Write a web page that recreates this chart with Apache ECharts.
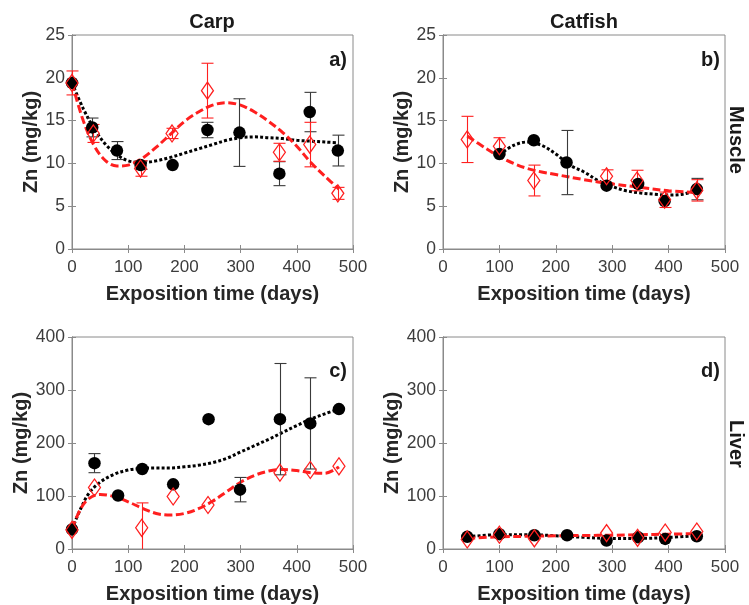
<!DOCTYPE html>
<html>
<head>
<meta charset="utf-8">
<script src="https://cdn.jsdelivr.net/npm/echarts@6/dist/echarts.min.js"></script>
<style>
  html, body { margin: 0; padding: 0; background: #ffffff; }
  #chart { width: 749px; height: 605px; }
</style>
</head>
<body>
<div id="chart"></div>
<script>
// ---- Zn concentration (mg/kg) over exposition time (days) ----

// a) Carp, muscle
const carpMuscleDotDays = [0, 36, 80, 122, 179, 241, 298, 369, 423, 473];
const carpMuscleDotZn   = [19.4, 14.2, 11.5, 9.8, 9.8, 13.9, 13.6, 8.8, 16.0, 11.5];
const carpMuscleDotErr  = [null, 1.1, 1.05, 0.5, null, 0.9, 3.95, 1.4, 2.3, 1.8];
const carpMuscleDiaDays = [0, 38, 122, 178, 241, 369, 423, 473];
const carpMuscleDiaZn   = [19.4, 13.5, 9.4, 13.5, 18.5, 11.3, 12.2, 6.5];
const carpMuscleDiaErr  = [1.4, 1.05, 0.9, 0.6, 3.2, 1.05, 2.6, 0.7];
const carpMuscleFitDays = [0, 20, 40, 60, 80, 100, 125, 150, 175, 200, 225, 250, 275, 300, 325, 350, 375, 400, 425, 450, 475];
const carpMuscleFitDot  = [19.4, 16.4, 14.0, 12.2, 11.0, 10.3, 10.1, 10.3, 10.7, 11.2, 11.7, 12.2, 12.7, 13.0, 13.1, 13.0, 12.9, 12.7, 12.6, 12.5, 12.4];
const carpMuscleFitDia  = [19.4, 15.0, 12.0, 10.3, 9.7, 9.8, 10.6, 11.9, 13.4, 14.9, 16.0, 16.8, 17.1, 16.8, 16.0, 14.9, 13.6, 12.0, 10.1, 8.5, 7.0];

// b) Catfish, muscle
const catMuscleDotDays = [100, 161, 219, 290, 346, 393, 450];
const catMuscleDotZn   = [11.1, 12.7, 10.1, 7.4, 7.6, 5.6, 7.0];
const catMuscleDotErr  = [null, null, 3.75, null, null, null, 1.25];
const catMuscleDiaDays = [43, 100, 161, 290, 344, 393, 450];
const catMuscleDiaZn   = [12.8, 12.0, 8.0, 8.5, 8.0, 5.75, 6.85];
const catMuscleDiaErr  = [2.7, 1.0, 1.8, 0.75, 1.2, 0.9, 1.25];
const catMuscleFitDotDays = [100, 125, 150, 175, 200, 225, 250, 275, 300, 325, 350, 375, 400, 425, 450];
const catMuscleFitDot     = [11.0, 12.1, 12.5, 12.1, 11.1, 9.8, 9.0, 8.0, 7.3, 6.8, 6.55, 6.4, 6.3, 6.4, 6.9];
const catMuscleFitDiaDays = [43, 75, 100, 125, 150, 175, 200, 250, 300, 350, 400, 450];
const catMuscleFitDia     = [13.2, 11.8, 10.8, 10.0, 9.4, 9.0, 8.7, 8.1, 7.6, 7.2, 6.8, 6.6];

// c) Carp, liver
const carpLiverDotDays = [0, 40, 82, 125, 180, 243, 299, 370, 424, 475];
const carpLiverDotZn   = [37, 162, 101, 151, 122, 245, 112, 245, 237, 264];
const carpLiverDotErr  = [null, 18, null, null, null, null, 23, 105, 86, null];
const carpLiverDiaDays = [0, 40, 124, 180, 242, 370, 424, 475];
const carpLiverDiaZn   = [36, 116, 40, 99, 83, 144, 149, 156];
const carpLiverDiaErr  = [null, null, 47, null, null, null, null, null];
const carpLiverFitDays = [0, 15, 30, 50, 75, 100, 125, 150, 175, 200, 225, 250, 275, 300, 325, 350, 375, 400, 425, 450, 475];
const carpLiverFitDot  = [38, 75, 105, 126, 141, 149, 152, 153, 153, 155, 158, 163, 171, 183, 195, 207, 220, 233, 245, 255, 264];
const carpLiverFitDia  = [38, 75, 95, 103, 99, 89, 77, 67, 64, 67, 76, 90, 108, 126, 139, 147, 150, 148, 144, 143, 155];

// d) Catfish, liver
const catLiverDotDays = [43, 100, 162, 220, 290, 346, 394, 450];
const catLiverDotZn   = [23, 28, 26, 26, 16, 22, 19, 24];
const catLiverDiaDays = [43, 100, 162, 290, 345, 394, 450];
const catLiverDiaZn   = [18, 27, 20, 30, 21, 31, 33];
const catLiverFitDays = [43, 100, 150, 200, 250, 300, 350, 400, 450];
const catLiverFitDot  = [23, 27, 27, 25, 22, 20, 20, 22, 25];
const catLiverFitDia  = [20, 23, 24, 25, 25.5, 26, 27, 28, 29];

const panelLabels = ['a)', 'b)', 'c)', 'd)'];
const columnTitles = ['Carp', 'Catfish'];
const rowTitles = ['Muscle', 'Liver'];
const xAxisTitle = 'Exposition time (days)';
const yAxisTitle = 'Zn (mg/kg)';

const panels = [
  { dot: [carpMuscleDotDays, carpMuscleDotZn, carpMuscleDotErr], dia: [carpMuscleDiaDays, carpMuscleDiaZn, carpMuscleDiaErr],
    fitDot: [carpMuscleFitDays, carpMuscleFitDot], fitDia: [carpMuscleFitDays, carpMuscleFitDia], yMax: 25, yStep: 5 },
  { dot: [catMuscleDotDays, catMuscleDotZn, catMuscleDotErr], dia: [catMuscleDiaDays, catMuscleDiaZn, catMuscleDiaErr],
    fitDot: [catMuscleFitDotDays, catMuscleFitDot], fitDia: [catMuscleFitDiaDays, catMuscleFitDia], yMax: 25, yStep: 5 },
  { dot: [carpLiverDotDays, carpLiverDotZn, carpLiverDotErr], dia: [carpLiverDiaDays, carpLiverDiaZn, carpLiverDiaErr],
    fitDot: [carpLiverFitDays, carpLiverFitDot], fitDia: [carpLiverFitDays, carpLiverFitDia], yMax: 400, yStep: 100 },
  { dot: [catLiverDotDays, catLiverDotZn, null], dia: [catLiverDiaDays, catLiverDiaZn, null],
    fitDot: [catLiverFitDays, catLiverFitDot], fitDia: [catLiverFitDays, catLiverFitDia], yMax: 400, yStep: 100 }
];

// ---- layout & style ----
const FONT = '"Liberation Sans", Arial, Helvetica, sans-serif';
const BOX = '#8a8a8a';
const TICK_TEXT = '#3c3c3c';
const RED = '#ff1f1f';
const gridRects = [
  { left: 72,  top: 35,  width: 281, height: 214 },
  { left: 443, top: 35,  width: 282, height: 214 },
  { left: 72,  top: 337, width: 281, height: 213 },
  { left: 443, top: 337, width: 282, height: 213 }
];

const pairs = (xs, ys) => xs.map((x, i) => [x, ys[i]]);

function errorBars(gi, xs, ys, errs, color) {
  const data = [];
  if (errs) xs.forEach((x, i) => { if (errs[i] != null) data.push([x, ys[i] - errs[i], ys[i] + errs[i]]); });
  return {
    type: 'custom', xAxisIndex: gi * 2, yAxisIndex: gi * 2, silent: true, z: 3,
    data: data,
    encode: { x: 0, y: [1, 2] },
    renderItem: function (params, api) {
      const x = api.value(0);
      const hi = api.coord([x, api.value(2)]);
      const lo = api.coord([x, api.value(1)]);
      const cs = params.coordSys;
      const top = cs.y, bottom = cs.y + cs.height;
      const px = Math.round(hi[0]) + 0.5;
      const style = { stroke: color, lineWidth: 1.1 };
      const half = 6;
      const kids = [{ type: 'line', shape: { x1: px, y1: Math.max(hi[1], top), x2: px, y2: Math.min(lo[1], bottom) }, style: style }];
      if (hi[1] >= top) kids.push({ type: 'line', shape: { x1: px - half, y1: hi[1], x2: px + half, y2: hi[1] }, style: style });
      if (lo[1] <= bottom) kids.push({ type: 'line', shape: { x1: px - half, y1: lo[1], x2: px + half, y2: lo[1] }, style: style });
      return { type: 'group', children: kids };
    }
  };
}

const grid = [], xAxis = [], yAxis = [], series = [];
panels.forEach((p, gi) => {
  grid.push(Object.assign({ show: true, borderColor: BOX, borderWidth: 1, backgroundColor: '#fff' }, gridRects[gi]));
  const tick = { show: true, inside: true, length: 4, lineStyle: { color: BOX, width: 1 } };
  xAxis.push({
    type: 'value', gridIndex: gi, min: 0, max: 500, interval: 100, position: 'bottom',
    axisLine: { show: true, lineStyle: { color: BOX } }, axisTick: tick, splitLine: { show: false },
    axisLabel: { fontFamily: FONT, fontSize: 17, color: TICK_TEXT, margin: 10 },
    name: xAxisTitle, nameLocation: 'middle', nameGap: 35,
    nameTextStyle: { fontFamily: FONT, fontSize: 20, fontWeight: 'bold', color: '#262626' }
  });
  xAxis.push({
    type: 'value', gridIndex: gi, min: 0, max: 500, interval: 100, position: 'top',
    axisLine: { show: true, lineStyle: { color: BOX } }, axisTick: tick, axisLabel: { show: false }, splitLine: { show: false }
  });
  yAxis.push({
    type: 'value', gridIndex: gi, min: 0, max: p.yMax, interval: p.yStep, position: 'left',
    axisLine: { show: true, lineStyle: { color: BOX } }, axisTick: tick, splitLine: { show: false },
    axisLabel: { fontFamily: FONT, fontSize: 17.5, color: TICK_TEXT, margin: 7 },
    name: yAxisTitle, nameLocation: 'middle', nameRotate: 90, nameGap: 28,
    nameTextStyle: { fontFamily: FONT, fontSize: 20, fontWeight: 'bold', color: '#262626' }
  });
  yAxis.push({
    type: 'value', gridIndex: gi, min: 0, max: p.yMax, interval: p.yStep, position: 'right',
    axisLine: { show: true, lineStyle: { color: BOX } }, axisTick: tick, axisLabel: { show: false }, splitLine: { show: false }
  });

  const xi = gi * 2, yi = gi * 2;
  // fitted trends
  series.push({
    type: 'line', xAxisIndex: xi, yAxisIndex: yi, smooth: 0.35, showSymbol: false, silent: true, z: 2,
    data: pairs(p.fitDot[0], p.fitDot[1]),
    lineStyle: { color: '#000', width: 3, type: [3, 2.2], cap: 'butt' }
  });
  series.push({
    type: 'line', xAxisIndex: xi, yAxisIndex: yi, smooth: 0.35, showSymbol: false, silent: true, z: 2,
    data: pairs(p.fitDia[0], p.fitDia[1]),
    lineStyle: { color: RED, width: 3, type: [8, 3.5], cap: 'butt' }
  });
  // error bars
  series.push(errorBars(gi, p.dot[0], p.dot[1], p.dot[2], '#3a3a3a'));
  series.push(errorBars(gi, p.dia[0], p.dia[1], p.dia[2], RED));
  // measurements
  series.push({
    type: 'scatter', xAxisIndex: xi, yAxisIndex: yi, symbol: 'circle', symbolSize: 12.5, z: 4, silent: true,
    data: pairs(p.dot[0], p.dot[1]),
    itemStyle: { color: '#000', opacity: 1 }
  });
  series.push({
    type: 'scatter', xAxisIndex: xi, yAxisIndex: yi, symbol: 'diamond', symbolSize: [12, 17], z: 5, silent: true,
    data: pairs(p.dia[0], p.dia[1]),
    itemStyle: { color: 'rgba(255,255,255,0)', borderColor: RED, borderWidth: 1.3, opacity: 1 }
  });
});

function label(text, x, y, opts) {
  return Object.assign({
    type: 'text', x: x, y: y, silent: true,
    style: {
      text: text, fill: '#1a1a1a', font: 'bold 20px ' + FONT,
      align: opts.align || 'center', verticalAlign: 'middle',
      textAlign: opts.align || 'center', textVerticalAlign: 'middle'
    }
  }, opts.rotation != null ? { rotation: opts.rotation } : {});
}

const graphic = [
  label(columnTitles[0], 212, 22, {}),
  label(columnTitles[1], 584, 22, {}),
  label(rowTitles[0], 736, 140, { rotation: -Math.PI / 2 }),
  label(rowTitles[1], 736, 444, { rotation: -Math.PI / 2 }),
  label(panelLabels[0], 347, 60, { align: 'right' }),
  label(panelLabels[1], 720, 60, { align: 'right' }),
  label(panelLabels[2], 347, 371, { align: 'right' }),
  label(panelLabels[3], 720, 371, { align: 'right' })
];

const chart = echarts.init(document.getElementById('chart'), null, { renderer: 'canvas' });
chart.setOption({
  animation: false,
  backgroundColor: '#ffffff',
  textStyle: { fontFamily: FONT },
  grid: grid, xAxis: xAxis, yAxis: yAxis, series: series, graphic: graphic
});
</script>
</body>
</html>
